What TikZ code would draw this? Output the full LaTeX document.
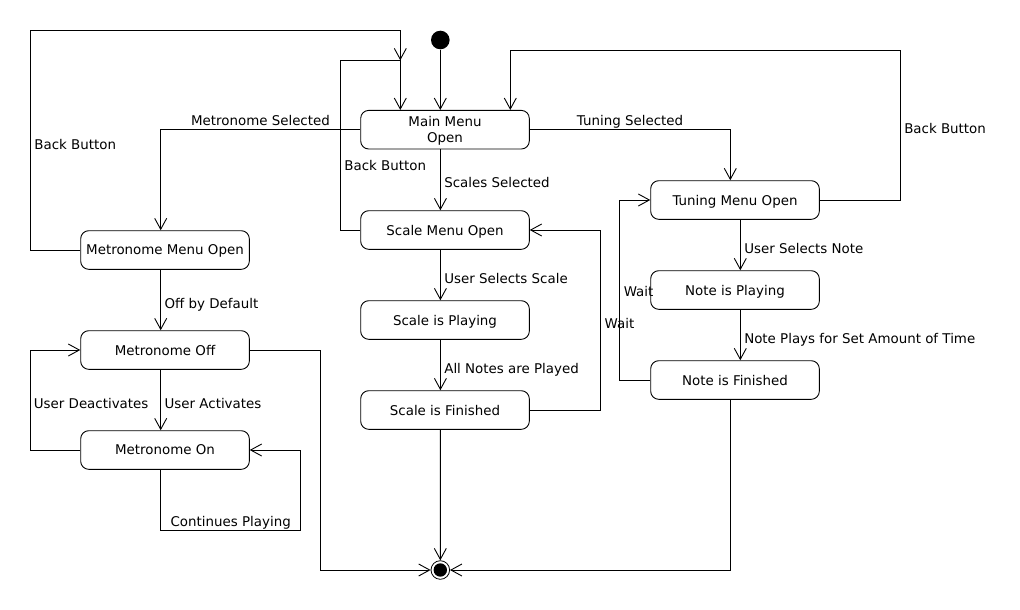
\documentclass[tikz,border=0pt]{standalone}
\usepackage{fontspec}
\setmainfont{DejaVu Sans}
\usetikzlibrary{
    arrows.meta,
    positioning
}

\begin{document}
\begin{tikzpicture}[x=1pt, y=-1pt, line width=0.9pt,
        >={Straight Barb[length=11pt, width=12pt]},
        font=\fontsize{13.4}{16}\selectfont,
        stbox/.style={draw, rounded corners=8pt, minimum width=168.6pt,
            minimum height=38.6pt, inner sep=0pt, text depth=0pt, align=center},
        lbl/.style={inner sep=3.5pt, text depth=0pt},
        rlbl/.style={lbl, right, yshift=-3pt}]
    \path[fill=white] (0, 0) rectangle (1020, 610);
    % states
    \node[circle, fill, inner sep=0pt, minimum size=18.6pt] (init) at (440.3, 40) {};
    \node[stbox] (mm) at (445, 129.7) {Main Menu\\Open};
    \node[stbox] (sm) at (445, 230) {Scale Menu Open};
    \node[stbox] (sp) at (445, 320) {Scale is Playing};
    \node[stbox] (sf) at (445, 410) {Scale is Finished};
    \node[stbox] (tm) at (735, 200) {Tuning Menu Open};
    \node[stbox] (np) at (735, 290) {Note is Playing};
    \node[stbox] (nf) at (735, 380) {Note is Finished};
    \node[stbox] (mmo) at (165, 250) {Metronome Menu Open};
    \node[stbox] (moff) at (165, 350) {Metronome Off};
    \node[stbox] (mon) at (165, 450) {Metronome On};
    \node[circle, draw, line width=0.8pt, inner sep=0pt, minimum size=18.6pt,
        path picture={\fill (path picture bounding box.center) circle (6.7pt);}]
        (fin) at (440.3, 570) {};
    \coordinate (jb) at (400.3, 60.3);
    % transitions
    \draw[->] (init) -- (init |- mm.north);
    \draw[->] (mm.west) -| node[lbl, above, pos=0.25] (lms) {Metronome Selected} ([xshift=-4.3pt]mmo.north);
    \draw[->] ([xshift=-4.6pt]mm.south) -- node[rlbl] (lss) {Scales Selected} ([xshift=-4.6pt]sm.north);
    \draw[->] (mm.east) -| node[lbl, above, pos=0.25] (lts) {Tuning Selected} ([xshift=-4.7pt]tm.north);
    \draw[->] ([xshift=-4.6pt]sm.south) -- node[rlbl] (lus) {User Selects Scale} ([xshift=-4.6pt]sp.north);
    \draw[->] ([xshift=-4.6pt]sp.south) -- node[rlbl] (lan) {All Notes are Played} ([xshift=-4.6pt]sf.north);
    \draw[->] ([xshift=-4.6pt]sf.south) -- (fin);
    \draw[->] (sf.east) -| node[rlbl, pos=0.75] (lwa) {Wait} ([xshift=71pt]sm.east) -- (sm.east);
    \draw (sm.west) -| node[lbl, right, pos=0.69] (lbs) {Back Button} (340.4, 60.3) -- (jb);
    \draw[->] (jb) ++(0, -12) -- (jb);
    \draw[->] (mmo.west) -| node[lbl, right, pos=0.74] (lbm) {Back Button} (30.4, 30.7) -| ([xshift=-44.7pt]mm.north);
    \draw[->] (tm.east) -| node[lbl, right, pos=0.74] (lbt) {Back Button} (900.3, 50.3) -| ([xshift=65.3pt]mm.north);
    \draw[->] ([xshift=5.3pt]tm.south) -- node[rlbl] (lsn) {User Selects Note} ([xshift=5.3pt]np.north);
    \draw[->] ([xshift=5.3pt]np.south) -- node[rlbl] (lnp) {Note Plays for Set Amount of Time} ([xshift=5.3pt]nf.north);
    \draw[->] (nf.west) -| node[lbl, right, pos=0.745] (lwn) {Wait} ([xshift=-30.4pt]tm.west) -- (tm.west);
    \draw[->] ([xshift=-4.7pt]nf.south) |- (fin.east);
    \draw[->] ([xshift=-4.3pt]mmo.south) -- node[rlbl] (lod) {Off by Default} ([xshift=-4.3pt]moff.north);
    \draw[->] ([xshift=-4.3pt]moff.south) -- node[rlbl] (lua) {User Activates} ([xshift=-4.3pt]mon.north);
    \draw[->] (mon.west) -| node[rlbl, pos=0.75] (lud) {User Deactivates} ([xshift=-50.3pt]moff.west) -- (moff.west);
    \draw[->] ([xshift=-4.3pt]mon.south) |- node[lbl, above, pos=0.75] (lcp) {Continues Playing} (300.7, 530) |- (mon.east);
    \draw[->] (moff.east) -| (320.4, 570) -- (fin.west);
\end{tikzpicture}
\end{document}
